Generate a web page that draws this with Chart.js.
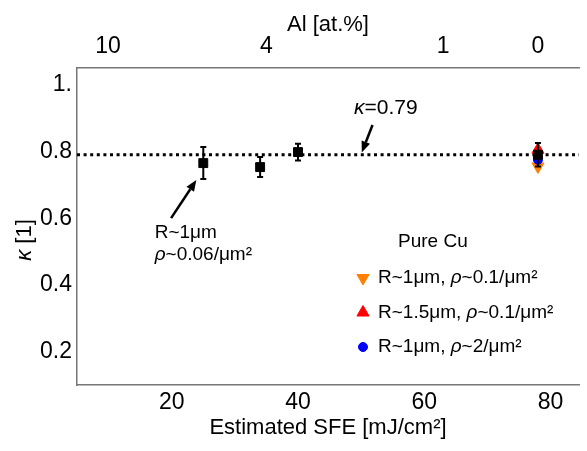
<!DOCTYPE html>
<html lang="en">
<head>
<meta charset="UTF-8" />
<title>kappa vs estimated SFE</title>
<script src="https://cdn.jsdelivr.net/npm/chart.js"></script>
<style>
  * { margin: 0; padding: 0; box-sizing: border-box; }
  body { background: #fff; width: 587px; height: 451px; overflow: hidden; }
</style>
</head>
<body>
<canvas id="chart" width="587" height="451"></canvas>
<script>
// Cu-Al samples (black squares), kappa with error
const sfe = [25, 34, 40, 78];
const kappa = [0.765, 0.753, 0.798, 0.79];
const kappaErr = [0.048, 0.03, 0.025, 0.035];

// pure Cu runs
const cuSfe = [78];
const cuR1Rho01 = [0.755];   // R~1um, rho~0.1/um2
const cuR15Rho01 = [0.805];  // R~1.5um, rho~0.1/um2
const cuR1Rho2 = [0.775];    // R~1um, rho~2/um2

const kappaMean = 0.79;
const sfeRange = [5, 84.5];

const sfeTicks = [20, 40, 60, 80];
const kappaTicks = [0.2, 0.4, 0.6, 0.8, 1.0];
const kappaTickLabels = ['0.2', '0.4', '0.6', '0.8', '1.'];
const alTickSfe = [9.9, 35, 63, 78];
const alTickLabels = ['10', '4', '1', '0'];

const legendTitle = 'Pure Cu';
const legendLabels = [
  [['R~1μm, ', false], ['ρ', true], ['~0.1/μm²', false]],
  [['R~1.5μm, ', false], ['ρ', true], ['~0.1/μm²', false]],
  [['R~1μm, ', false], ['ρ', true], ['~2/μm²', false]]
];
const yTitle = [['κ', true], [' [1]', false]];

const FONT = '"Liberation Sans", Arial, sans-serif';
const ORANGE = '#ff8000', RED = '#ff0000', BLUE = '#0000ff';

function richText(ctx, parts, x, y, size, align) {
  const fontFor = it => (it ? 'italic ' : '') + size + 'px ' + FONT;
  let w = 0;
  parts.forEach(p => { ctx.font = fontFor(p[1]); w += ctx.measureText(p[0]).width; });
  let cx = align === 'center' ? x - w / 2 : x;
  ctx.textAlign = 'left';
  ctx.textBaseline = 'middle';
  ctx.fillStyle = '#000';
  parts.forEach(p => {
    ctx.font = fontFor(p[1]);
    ctx.fillText(p[0], cx, y);
    cx += ctx.measureText(p[0]).width;
  });
}

function arrow(ctx, x1, y1, x2, y2) {
  const a = Math.atan2(y2 - y1, x2 - x1);
  const len = 11, half = 4.5;
  const bx = x2 - len * Math.cos(a), by = y2 - len * Math.sin(a);
  ctx.strokeStyle = '#000';
  ctx.fillStyle = '#000';
  ctx.lineWidth = 2.5;
  ctx.beginPath();
  ctx.moveTo(x1, y1);
  ctx.lineTo(bx, by);
  ctx.stroke();
  ctx.beginPath();
  ctx.moveTo(x2, y2);
  ctx.lineTo(bx + half * Math.sin(a), by - half * Math.cos(a));
  ctx.lineTo(bx - half * Math.sin(a), by + half * Math.cos(a));
  ctx.closePath();
  ctx.fill();
}

function marker(ctx, style, color, radius, rotation, x, y) {
  ctx.fillStyle = color;
  ctx.strokeStyle = color;
  ctx.lineWidth = 1;
  Chart.helpers.drawPoint(ctx, { pointStyle: style, radius: radius, rotation: rotation, borderWidth: 1 }, x, y);
}

// text notes in data coordinates
const notes = [
  { parts: [['κ', true], ['=0.79', false]], x: 53.9, y: 0.93, align: 'center', size: 21 },
  { parts: [['R~1μm', false]], x: 17.3, y: 0.555, align: 'left', size: 19 },
  { parts: [['ρ', true], ['~0.06/μm²', false]], x: 17.3, y: 0.49, align: 'left', size: 19 }
];
const arrows = [
  { from: [51.8, 0.879], to: [50.1, 0.797] },
  { from: [19.9, 0.60], to: [23.9, 0.714] }
];

const extras = {
  id: 'extras',
  afterDatasetsDraw(chart) {
    const ctx = chart.ctx;
    const xs = chart.scales.x, ys = chart.scales.y;
    const area = chart.chartArea;
    ctx.save();

    // error bars
    ctx.strokeStyle = '#000';
    ctx.lineWidth = 2;
    sfe.forEach((v, i) => {
      const px = xs.getPixelForValue(v);
      const top = ys.getPixelForValue(kappa[i] + kappaErr[i]);
      const bot = ys.getPixelForValue(kappa[i] - kappaErr[i]);
      ctx.beginPath();
      ctx.moveTo(px, top); ctx.lineTo(px, bot);
      ctx.moveTo(px - 3, top); ctx.lineTo(px + 3, top);
      ctx.moveTo(px - 3, bot); ctx.lineTo(px + 3, bot);
      ctx.stroke();
    });

    // annotations
    notes.forEach(n => richText(ctx, n.parts, xs.getPixelForValue(n.x), ys.getPixelForValue(n.y), n.size, n.align));
    arrows.forEach(a => arrow(ctx,
      xs.getPixelForValue(a.from[0]), ys.getPixelForValue(a.from[1]),
      xs.getPixelForValue(a.to[0]), ys.getPixelForValue(a.to[1])));

    // legend box inside the plot
    const lx = area.left + 286, ly = area.top + 174;
    richText(ctx, [[legendTitle, false]], lx + 35, ly, 19, 'left');
    const styles = [['triangle', ORANGE, 7, 180], ['triangle', RED, 7, 0], ['circle', BLUE, 4.5, 0]];
    legendLabels.forEach((parts, i) => {
      const y = ly + 36 + i * 34.5;
      const s = styles[i];
      marker(ctx, s[0], s[1], s[2], s[3], lx, y);
      richText(ctx, parts, lx + 15, y, 19, 'left');
    });

    // y axis title (kappa italic, unit upright)
    ctx.translate(25, area.top + 172);
    ctx.rotate(-Math.PI / 2);
    richText(ctx, yTitle, 0, 0, 22, 'center');
    ctx.restore();
  }
};

const axisBorder = { color: '#777', width: 1.5 };

new Chart(document.getElementById('chart'), {
  type: 'scatter',
  data: {
    datasets: [
      {
        label: 'Cu-Al',
        data: sfe.map((x, i) => ({ x: x, y: kappa[i] })),
        pointStyle: 'rect', pointRadius: 6.3,
        backgroundColor: '#000', borderColor: '#000', borderWidth: 1
      },
      {
        label: 'R~1μm, ρ~2/μm²',
        data: cuSfe.map((x, i) => ({ x: x, y: cuR1Rho2[i] })),
        pointStyle: 'circle', pointRadius: 4.5,
        backgroundColor: BLUE, borderColor: BLUE, borderWidth: 1
      },
      {
        label: 'R~1.5μm, ρ~0.1/μm²',
        data: cuSfe.map((x, i) => ({ x: x, y: cuR15Rho01[i] })),
        pointStyle: 'triangle', pointRadius: 7,
        backgroundColor: RED, borderColor: RED, borderWidth: 1
      },
      {
        label: 'R~1μm, ρ~0.1/μm²',
        data: cuSfe.map((x, i) => ({ x: x, y: cuR1Rho01[i] })),
        pointStyle: 'triangle', pointRadius: 7, rotation: 180,
        backgroundColor: ORANGE, borderColor: ORANGE, borderWidth: 1
      },
      {
        type: 'line',
        label: 'kappa mean',
        data: sfeRange.map(x => ({ x: x, y: kappaMean })),
        borderColor: '#000', borderWidth: 3, borderDash: [3, 3.6],
        pointRadius: 0, fill: false
      }
    ]
  },
  options: {
    responsive: false,
    devicePixelRatio: 1,
    animation: false,
    events: [],
    layout: { padding: 0 },
    plugins: { legend: { display: false }, tooltip: { enabled: false } },
    scales: {
      x: {
        type: 'linear', position: 'bottom',
        min: sfeRange[0], max: sfeRange[1],
        afterBuildTicks: s => { s.ticks = sfeTicks.map(v => ({ value: v })); },
        afterFit: s => { s.height = 66; },
        ticks: { autoSkip: false, maxRotation: 0, padding: 4, color: '#000',
                 font: { family: FONT, size: 23 }, callback: v => String(v) },
        grid: { display: false, drawTicks: false },
        border: axisBorder,
        title: { display: true, text: 'Estimated SFE [mJ/cm²]', color: '#000',
                 font: { family: FONT, size: 22 }, padding: { top: 0, bottom: 10 } }
      },
      x2: {
        type: 'linear', position: 'top',
        min: sfeRange[0], max: sfeRange[1],
        afterBuildTicks: s => { s.ticks = alTickSfe.map(v => ({ value: v })); },
        afterFit: s => { s.height = 68; },
        ticks: { autoSkip: false, maxRotation: 0, padding: 8, color: '#000',
                 font: { family: FONT, size: 23 }, callback: (v, i) => alTickLabels[i] },
        grid: { display: false, drawTicks: false },
        border: axisBorder,
        title: { display: true, text: 'Al [at.%]', color: '#000',
                 font: { family: FONT, size: 22 }, padding: { top: 12, bottom: 0 } }
      },
      y: {
        type: 'linear', position: 'left',
        min: 0.1, max: 1.05,
        afterBuildTicks: s => { s.ticks = kappaTicks.map(v => ({ value: v })); },
        afterFit: s => { s.width = 77; },
        ticks: { autoSkip: false, padding: 5, color: '#000',
                 font: { family: FONT, size: 23 }, callback: (v, i) => kappaTickLabels[i] },
        grid: { display: false, drawTicks: false },
        border: axisBorder,
        title: { display: false }
      }
    }
  },
  plugins: [extras]
});
</script>
</body>
</html>
